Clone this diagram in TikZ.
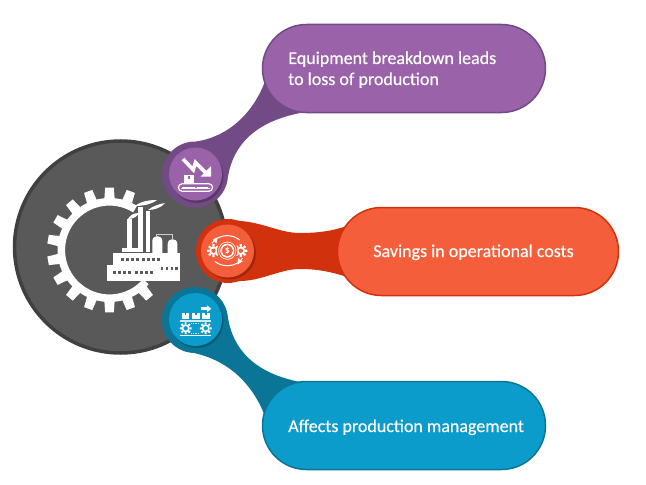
\documentclass[tikz,border=0pt]{standalone}
\usepackage{fontspec}
\setmainfont{Carlito}
\newfontfamily\labfont{Carlito}[FakeBold=0.35]
\usetikzlibrary{shapes.misc}
\definecolor{bigfill}{HTML}{595959}
\definecolor{bigline}{HTML}{404040}
\definecolor{purF}{HTML}{9A62A8}
\definecolor{purD}{HTML}{724A85}
\definecolor{oraF}{HTML}{F45E3A}
\definecolor{oraD}{HTML}{D2310E}
\definecolor{bluF}{HTML}{0C9CCB}
\definecolor{bluD}{HTML}{0A7596}
\def\u{0.75pt}
\pgfdeclarelayer{back}\pgfdeclarelayer{mid}
\pgfsetlayers{back,mid,main}
\tikzset{
  x=0.75pt,y=-0.75pt,
  pill/.style={rounded rectangle,rounded rectangle arc length=180,draw=#1,line width=1.5*\u,minimum height=88*\u,inner sep=0pt,outer sep=0pt},
  hub/.style={circle,minimum size=66*\u,inner sep=0pt,outer sep=0pt,fill=#1},
  disc/.style={circle,minimum size=53*\u,inner sep=0pt,outer sep=0pt,fill=#1},
  label/.style={anchor=base west,text=white,font=\labfont\fontsize{13.5pt}{15pt}\selectfont,inner sep=0pt},
  win/.style={fill=bigfill},
}
% small gear: cx cy router rinner hole holecolor
\newcommand{\smallgear}[6]{%
  \foreach \a in {0,45,...,315}{%
    \fill[white] ({#1+#4*cos(\a-14)},{#2-#4*sin(\a-14)}) -- ({#1+#3*cos(\a-10)},{#2-#3*sin(\a-10)}) -- ({#1+#3*cos(\a+10)},{#2-#3*sin(\a+10)}) -- ({#1+#4*cos(\a+14)},{#2-#4*sin(\a+14)}) -- cycle;}
  \fill[white] (#1,#2) circle[radius=#4*\u];
  \fill[#6] (#1,#2) circle[radius=#5*\u];
}
\begin{document}
\begin{tikzpicture}
\useasboundingbox (0,0) rectangle (646,485);
% pills and hubs
\node[pill=purD,fill=purF,minimum width=283*\u] (p1) at (404,68.5) {};
\node[pill=oraD,fill=oraF,minimum width=281*\u] (p2) at (478,251.5) {};
\node[pill=bluD,fill=bluF,minimum width=283*\u] (p3) at (404,425.5) {};
\node[hub=purD] (c1) at (195,174.5) {};
\node[hub=oraD,minimum size=64*\u] (c2) at (228,251) {};
\node[hub=bluD] (c3) at (195,320) {};
\begin{pgfonlayer}{back}
\node[circle,draw=bigline,fill=bigfill,line width=3.5*\u,minimum size=212*\u,inner sep=0pt] (c0) at (120.5,247) {};
\end{pgfonlayer}
\begin{pgfonlayer}{mid}
\coordinate (p1b) at (300,113);
\fill[purD] (c1.88) .. controls (232,136) and (258,108) .. (268,72) -- (p1b) .. controls (255,122) and (233,145) .. (c1.-5) -- cycle;
\fill[oraD] (c2.70) .. controls (262,222) and (280,233) .. (300,233) .. controls (318,233) and (332,231) .. (347,226) -- (347,277) .. controls (332,272) and (318,269) .. (300,269) .. controls (280,269) and (262,281) .. (c2.-70) -- cycle;
\fill[bluD] (c3.5) .. controls (233,350) and (255,373) .. (300,382) -- (268,425) .. controls (258,392) and (235,362) .. (c3.-92) -- cycle;
\end{pgfonlayer}
% discs with shadow
\fill[black,opacity=.22] (197,176.5) circle[radius=26.5*\u];
\fill[black,opacity=.22] (229.5,253) circle[radius=26.5*\u];
\fill[black,opacity=.22] (197,321.5) circle[radius=26.5*\u];
\node[disc=purF] (d1) at (195.5,174) {};
\node[disc=oraF] (d2) at (227.5,251) {};
\node[disc=bluF] (d3) at (195.5,319.5) {};
% big gear
\draw[white,line width=7.6*\u] plot[domain=58:319,samples=100] ({109.5+48.2*cos(\x)},{250-48.2*sin(\x)});
\foreach \a in {70,90,...,310}{
  \fill[white] ({109.5+50*cos(\a-6)},{250-50*sin(\a-6)}) -- ({109.5+62.5*cos(\a-4)},{250-62.5*sin(\a-4)}) -- ({109.5+62.5*cos(\a+4)},{250-62.5*sin(\a+4)}) -- ({109.5+50*cos(\a+6)},{250-50*sin(\a+6)}) -- cycle;
}
% factory
\fill[white] (127.3,252) -- (127.3,218.5) -- (131.7,218.5) -- (131.7,252) -- cycle;
\fill[white] (138.3,252) -- (138.3,207) -- (142.6,207) -- (142.6,252) -- cycle;
\fill[white] (146,252) -- (146,211) -- (150,211) -- (150,252) -- cycle;
\fill[white] (128,219) .. controls (130,215) and (134,213) .. (139,213) .. controls (137,217) and (133,219) .. (128,219) -- cycle;
\fill[white] (135,206) .. controls (141,201) and (150,200) .. (157,200) .. controls (152,204) and (143,206) .. (135,206) -- cycle;
\fill[white] (148,210) .. controls (153,206) and (159,204) .. (165,203) .. controls (161,208) and (154,210) .. (148,210) -- cycle;
\fill[white] (152.3,256) -- (152.3,241) .. controls (152.3,234.5) and (162.3,234.5) .. (162.3,241) -- (162.3,256) -- cycle;
\fill[white] (167.7,256) -- (167.7,244) .. controls (167.7,237.5) and (177.3,237.5) .. (177.3,244) -- (177.3,256) -- cycle;
\draw[gray!40,line width=.7*\u] (156,237) -- (156,234.5) -- (172.7,234.5) -- (172.7,240);
\fill[white] (122,252) rectangle (140,248);
\fill[white] (113,253) rectangle (180,266);
\fill[white] (106.7,265) rectangle (180,281);
\foreach \xx in {120.5,125.5,130.5,135.5,141.5,146.5,151.5,156.5}{\fill[win] (\xx,258.3) rectangle +(3,3);}
\foreach \xx in {160.5,165.5,170.5,175}{\fill[win] (\xx,266.5) rectangle +(2.5,3);}
\foreach \xx in {112.5,118,123,128,134.5,139.5,144.5,149.5}{\fill[win] (\xx,271) rectangle +(3,3);}
% purple icon
\draw[white,line width=3.6*\u,line join=miter] (183,159) -- (193.3,169.8) -- (195.5,162.5) -- (206,173);
\fill[white] (211,166) -- (211,176.5) -- (200.5,176.5) -- cycle;
\fill[white] (184,175) rectangle (194,182.5);
\fill[purF] (188,176) rectangle (190,178.5);
\draw[white,line width=1.2*\u,rounded corners=3.5*\u] (178.5,183.8) rectangle (212.5,191.2);
\draw[white,line width=2*\u] (181,187.5) -- (210,187.5);
\foreach \xx in {181.5,196,209}{\fill[purF] (\xx,187.5) circle[radius=.8*\u];}
% orange icon
\smallgear{213.5}{250.7}{6.6}{4.3}{2.2}{oraF}
\smallgear{240.8}{250.7}{6.6}{4.3}{2.2}{oraF}
\fill[oraF] (227.3,250.7) circle[radius=10.3*\u];
\fill[white] (227.3,250.7) circle[radius=9*\u];
\fill[oraF] (227.3,250.7) circle[radius=8.2*\u];
\fill[white] (227.3,250.7) circle[radius=7*\u];
\fill[oraF] (227.3,250.7) circle[radius=5.6*\u];
\node[inner sep=0pt,text=white,font=\fontsize{7.5pt}{8pt}\selectfont\bfseries] (dollar) at (227.3,250.7) {\$};
\draw[white,line width=1*\u] plot[domain=150:45,samples=20] ({227.3+17.5*cos(\x)},{250.7-15*sin(\x)});
\draw[white,line width=1*\u] plot[domain=-30:-135,samples=20] ({227.3+17.5*cos(\x)},{250.7-15*sin(\x)});
\fill[white] (212.5,240) -- (217.5,237) -- (216.5,243.5) -- cycle;
\fill[white] (242.5,261.5) -- (237.5,264.5) -- (238,258) -- cycle;
% blue icon
\fill[white] (200.7,307.3) rectangle (207.5,310.3);
\fill[white] (207,305.3) -- (211.3,308.8) -- (207,312.3) -- cycle;
\foreach \xx in {181.7,192,202}{
  \fill[white] (\xx,312.7) rectangle +(7.5,6.3);
  \fill[bluF] (\xx+3,312.7) rectangle +(1.5,2.5);
}
\fill[white!80!bluF] (180,319.5) rectangle (211,321.5);
\smallgear{185.7}{328.3}{6}{4}{2.2}{bluF}
\smallgear{205.7}{328.3}{6}{4}{2.2}{bluF}
\draw[white!70!bluF,line width=.9*\u,dash pattern=on .9*\u off .9*\u] (191,323.5) -- (200,323.5);
\draw[white!70!bluF,line width=.9*\u,dash pattern=on .9*\u off .9*\u] (191,333) -- (200,333);
\draw[white,line width=1*\u] (180,335.5) -- (211,335.5);
% labels
\node[label] (t1) at (288,64) {Equipment breakdown leads};
\node[label] (t1b) at (288,85) {to loss of production};
\node[label] (t2) at (373,257) {Savings in operational costs};
\node[label] (t3) at (288,432) {Affects production management};
\end{tikzpicture}
\end{document}
